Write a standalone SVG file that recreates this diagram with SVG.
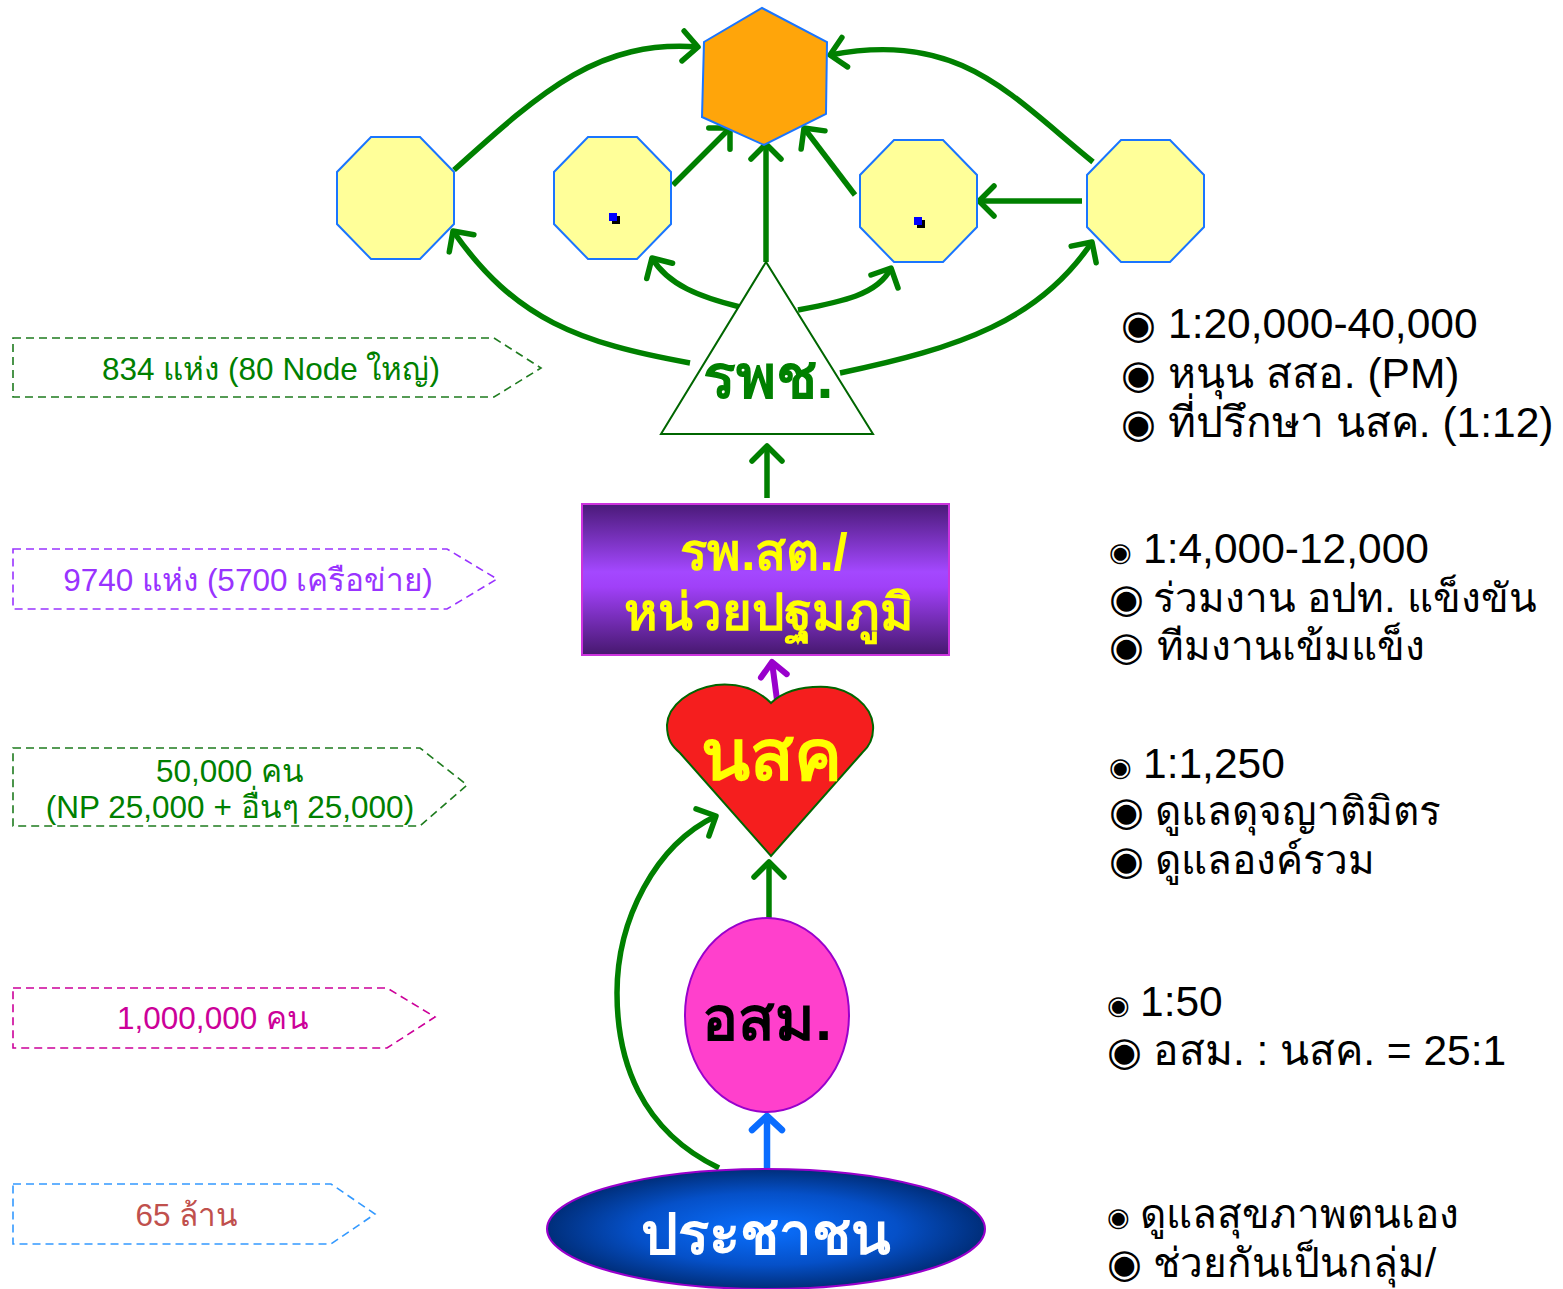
<svg xmlns="http://www.w3.org/2000/svg" width="1563" height="1289" viewBox="0 0 1563 1289">
<style>
  text { font-family: "Liberation Sans", "DejaVu Sans", "Noto Sans", sans-serif; }
  .oct { fill: #FFFF99; stroke: #1A75FF; stroke-width: 2; }
  .conn { fill: none; stroke: #008000; stroke-width: 5.5; }
  .lbl { fill: none; stroke-width: 1.6; stroke-dasharray: 8 5; }
  .ltxt { font-size: 31.5px; text-anchor: middle; }
  .rt { font-size: 42.5px; fill: #000; }
  .rtt { font-size: 40.5px; fill: #000; }
  .bul { font-size: 40px; fill: #000; }
  .bs { font-size: 26px; fill: #000; }
  .dot { fill: #0000FF; }
  .shd { fill: #000; }
</style>
<defs>
  <marker id="ag" markerUnits="userSpaceOnUse" markerWidth="40" markerHeight="40" refX="20" refY="20" orient="auto" overflow="visible">
    <path d="M5,5 L20,20 L5,35" fill="none" stroke="#008000" stroke-width="5.5" stroke-linecap="round" stroke-linejoin="round"/>
  </marker>
  <marker id="ap" markerUnits="userSpaceOnUse" markerWidth="40" markerHeight="40" refX="20" refY="20" orient="auto" overflow="visible">
    <path d="M6,7 L20,20 L6,33" fill="none" stroke="#9900CC" stroke-width="6" stroke-linecap="round" stroke-linejoin="round"/>
  </marker>
  <marker id="ab" markerUnits="userSpaceOnUse" markerWidth="40" markerHeight="40" refX="20" refY="20" orient="auto" overflow="visible">
    <path d="M6,5 L20,20 L6,35" fill="none" stroke="#0A6CFF" stroke-width="6.5" stroke-linecap="round" stroke-linejoin="round"/>
  </marker>
  <linearGradient id="gbox" x1="0" y1="0" x2="0" y2="1">
    <stop offset="0" stop-color="#4A1A78"/>
    <stop offset="0.45" stop-color="#A448FF"/>
    <stop offset="0.55" stop-color="#A040F8"/>
    <stop offset="1" stop-color="#46186E"/>
  </linearGradient>
  <radialGradient id="gpeople" cx="0.5" cy="0.5" r="0.5">
    <stop offset="0" stop-color="#0A70FF"/>
    <stop offset="0.6" stop-color="#0550C8"/>
    <stop offset="1" stop-color="#002E7A"/>
  </radialGradient>
</defs>

<!-- left labels -->
<g id="label-834">
  <polygon class="lbl" stroke="#1E7B1E" points="13,338 494,338 541,368 494,397 13,397"/>
  <text class="ltxt" x="271" y="380" fill="#008000">834 แห่ง (80 Node ใหญ่)</text>
</g>
<g id="label-9740">
  <polygon class="lbl" stroke="#9933FF" points="13,549 447,549 497,579 447,609 13,609"/>
  <text class="ltxt" x="248" y="591" fill="#9933FF">9740 แห่ง (5700 เครือข่าย)</text>
</g>
<g id="label-50000">
  <polygon class="lbl" stroke="#1E7B1E" points="13,748 420,748 467,785 420,826 13,826"/>
  <text class="ltxt" x="230" y="782" fill="#008000">50,000 คน</text>
  <text class="ltxt" x="230" y="818" fill="#008000">(NP 25,000 + อื่นๆ 25,000)</text>
</g>
<g id="label-1000000">
  <polygon class="lbl" stroke="#CC0099" points="13,988 387,988 435,1017 387,1048 13,1048"/>
  <text class="ltxt" x="213" y="1029" fill="#CC0099">1,000,000 คน</text>
</g>
<g id="label-65">
  <polygon class="lbl" stroke="#3399FF" points="13,1184 331,1184 375,1214 331,1244 13,1244"/>
  <text class="ltxt" x="187" y="1226" fill="#C0504D">65 ล้าน</text>
</g>

<!-- connectors -->
<g id="connectors">
  <path class="conn" d="M454,170 C545,88 600,40 698,47" marker-end="url(#ag)"/>
  <path class="conn" d="M1093,162 C1010,95 960,30 830,55" marker-end="url(#ag)"/>
  <path class="conn" d="M673,185 L730,128" marker-end="url(#ag)"/>
  <path class="conn" d="M766,262 L766,144" marker-end="url(#ag)"/>
  <path class="conn" d="M855,195 L804,128" marker-end="url(#ag)"/>
  <path class="conn" d="M1082,201 L979,201" marker-end="url(#ag)"/>
  <path class="conn" d="M740,307 C700,297 668,285 652,258" marker-end="url(#ag)"/>
  <path class="conn" d="M798,310 C840,302 878,295 891,268" marker-end="url(#ag)"/>
  <path class="conn" d="M690,363 C580,343 515,320 453,231" marker-end="url(#ag)"/>
  <path class="conn" d="M840,373 C960,348 1040,320 1092,242" marker-end="url(#ag)"/>
  <path class="conn" d="M767,498 L767,446" marker-end="url(#ag)"/>
  <path d="M777,700 L772,662" fill="none" stroke="#9900CC" stroke-width="6" marker-end="url(#ap)"/>
  <path class="conn" d="M769,918 L769,862" marker-end="url(#ag)"/>
  <path d="M767,1168 L767,1116" fill="none" stroke="#0A6CFF" stroke-width="6.5" marker-end="url(#ab)"/>
  <path class="conn" d="M719,1168 C640,1130 617,1060 617,993 C617,920 655,845 716,816" marker-end="url(#ag)"/>
</g>

<!-- nodes -->
<g id="hexagon-top">
  <polygon points="762,8 827,42 826,114 764,145 702,117 704,42" fill="#FFA50A" stroke="#1A75FF" stroke-width="2"/>
</g>
<g id="octagon-1">
  <polygon class="oct" points="371,137 420,137 454,172 454,224 420,259 371,259 337,224 337,172"/>
</g>
<g id="octagon-2">
  <polygon class="oct" points="588,137 637,137 671,172 671,224 637,259 588,259 554,224 554,172"/>
  <rect class="shd" x="612" y="216" width="8" height="8"/>
  <rect class="dot" x="609" y="213" width="8" height="8"/>
</g>
<g id="octagon-3">
  <polygon class="oct" points="894,140 943,140 977,175 977,227 943,262 894,262 860,227 860,175"/>
  <rect class="shd" x="917" y="220" width="8" height="8"/>
  <rect class="dot" x="914" y="217" width="8" height="8"/>
</g>
<g id="octagon-4">
  <polygon class="oct" points="1121,140 1170,140 1204,175 1204,227 1170,262 1121,262 1087,227 1087,175"/>
</g>
<g id="rpch">
  <polygon points="766,262 661,434 873,434" fill="#FFFFFF" stroke="#006600" stroke-width="2"/>
  <text x="768" y="398" font-size="61" font-weight="bold" fill="#008000" text-anchor="middle">รพช.</text>
</g>
<g id="rpst">
  <rect x="582" y="504" width="367" height="151" fill="url(#gbox)" stroke="#CC33DD" stroke-width="2"/>
  <text x="764" y="570" font-size="51" font-weight="bold" fill="#FFFF00" text-anchor="middle">รพ.สต./</text>
  <text x="769" y="630" font-size="51" font-weight="bold" fill="#FFFF00" text-anchor="middle">หน่วยปฐมภูมิ</text>
</g>
<g id="nsk">
  <path d="M771,703 C755,687 737,683 716,685 C690,689 668,705 667,725 C667,740 672,746 680,753 L771,856 L862,753 C870,746 874,738 873,725 C871,705 850,689 827,687 C805,686 785,690 771,703 Z" fill="#F51E1E" stroke="#006600" stroke-width="2"/>
  <text x="771" y="780" font-size="72" font-weight="bold" fill="#FFFF00" text-anchor="middle">นสค</text>
</g>
<g id="osm">
  <ellipse cx="767" cy="1015" rx="82" ry="97" fill="#FF40CC" stroke="#9900CC" stroke-width="2"/>
  <text x="767" y="1040" font-size="60" font-weight="bold" fill="#000000" text-anchor="middle">อสม.</text>
</g>
<g id="people">
  <ellipse cx="766" cy="1229" rx="219" ry="60" fill="url(#gpeople)" stroke="#9900CC" stroke-width="2"/>
  <text x="766" y="1254" font-size="58" font-weight="bold" fill="#FFFFFF" text-anchor="middle">ประชาชน</text>
</g>

<!-- right notes -->
<g id="notes-rpch">
  <text class="bul" x="1121" y="338">◉</text><text class="rt" x="1168" y="338">1:20,000-40,000</text>
  <text class="bul" x="1121" y="388">◉</text><text class="rt" x="1168" y="388">หนุน สสอ. (PM)</text>
  <text class="bul" x="1121" y="437">◉</text><text class="rt" x="1168" y="437">ที่ปรึกษา นสค. (1:12)</text>
</g>
<g id="notes-rpst">
  <text class="bs" x="1109" y="561">◉</text><text class="rt" x="1143" y="563">1:4,000-12,000</text>
  <text class="bul" x="1109" y="612">◉</text><text class="rtt" x="1153" y="612">ร่วมงาน อปท. แข็งขัน</text>
  <text class="bul" x="1109" y="660">◉</text><text class="rtt" x="1157" y="660">ทีมงานเข้มแข็ง</text>
</g>
<g id="notes-nsk">
  <text class="bs" x="1109" y="776">◉</text><text class="rt" x="1143" y="778">1:1,250</text>
  <text class="bul" x="1109" y="825">◉</text><text class="rtt" x="1155" y="825">ดูแลดุจญาติมิตร</text>
  <text class="bul" x="1109" y="874">◉</text><text class="rtt" x="1155" y="874">ดูแลองค์รวม</text>
</g>
<g id="notes-osm">
  <text class="bs" x="1107" y="1014">◉</text><text class="rt" x="1140" y="1016">1:50</text>
  <text class="bul" x="1107" y="1065">◉</text><text class="rt" x="1153" y="1065">อสม. : นสค. = 25:1</text>
</g>
<g id="notes-people">
  <text class="bs" x="1107" y="1226">◉</text><text class="rtt" x="1140" y="1228">ดูแลสุขภาพตนเอง</text>
  <text class="bul" x="1107" y="1277">◉</text><text class="rtt" x="1153" y="1277">ช่วยกันเป็นกลุ่ม/</text>
</g>
</svg>
